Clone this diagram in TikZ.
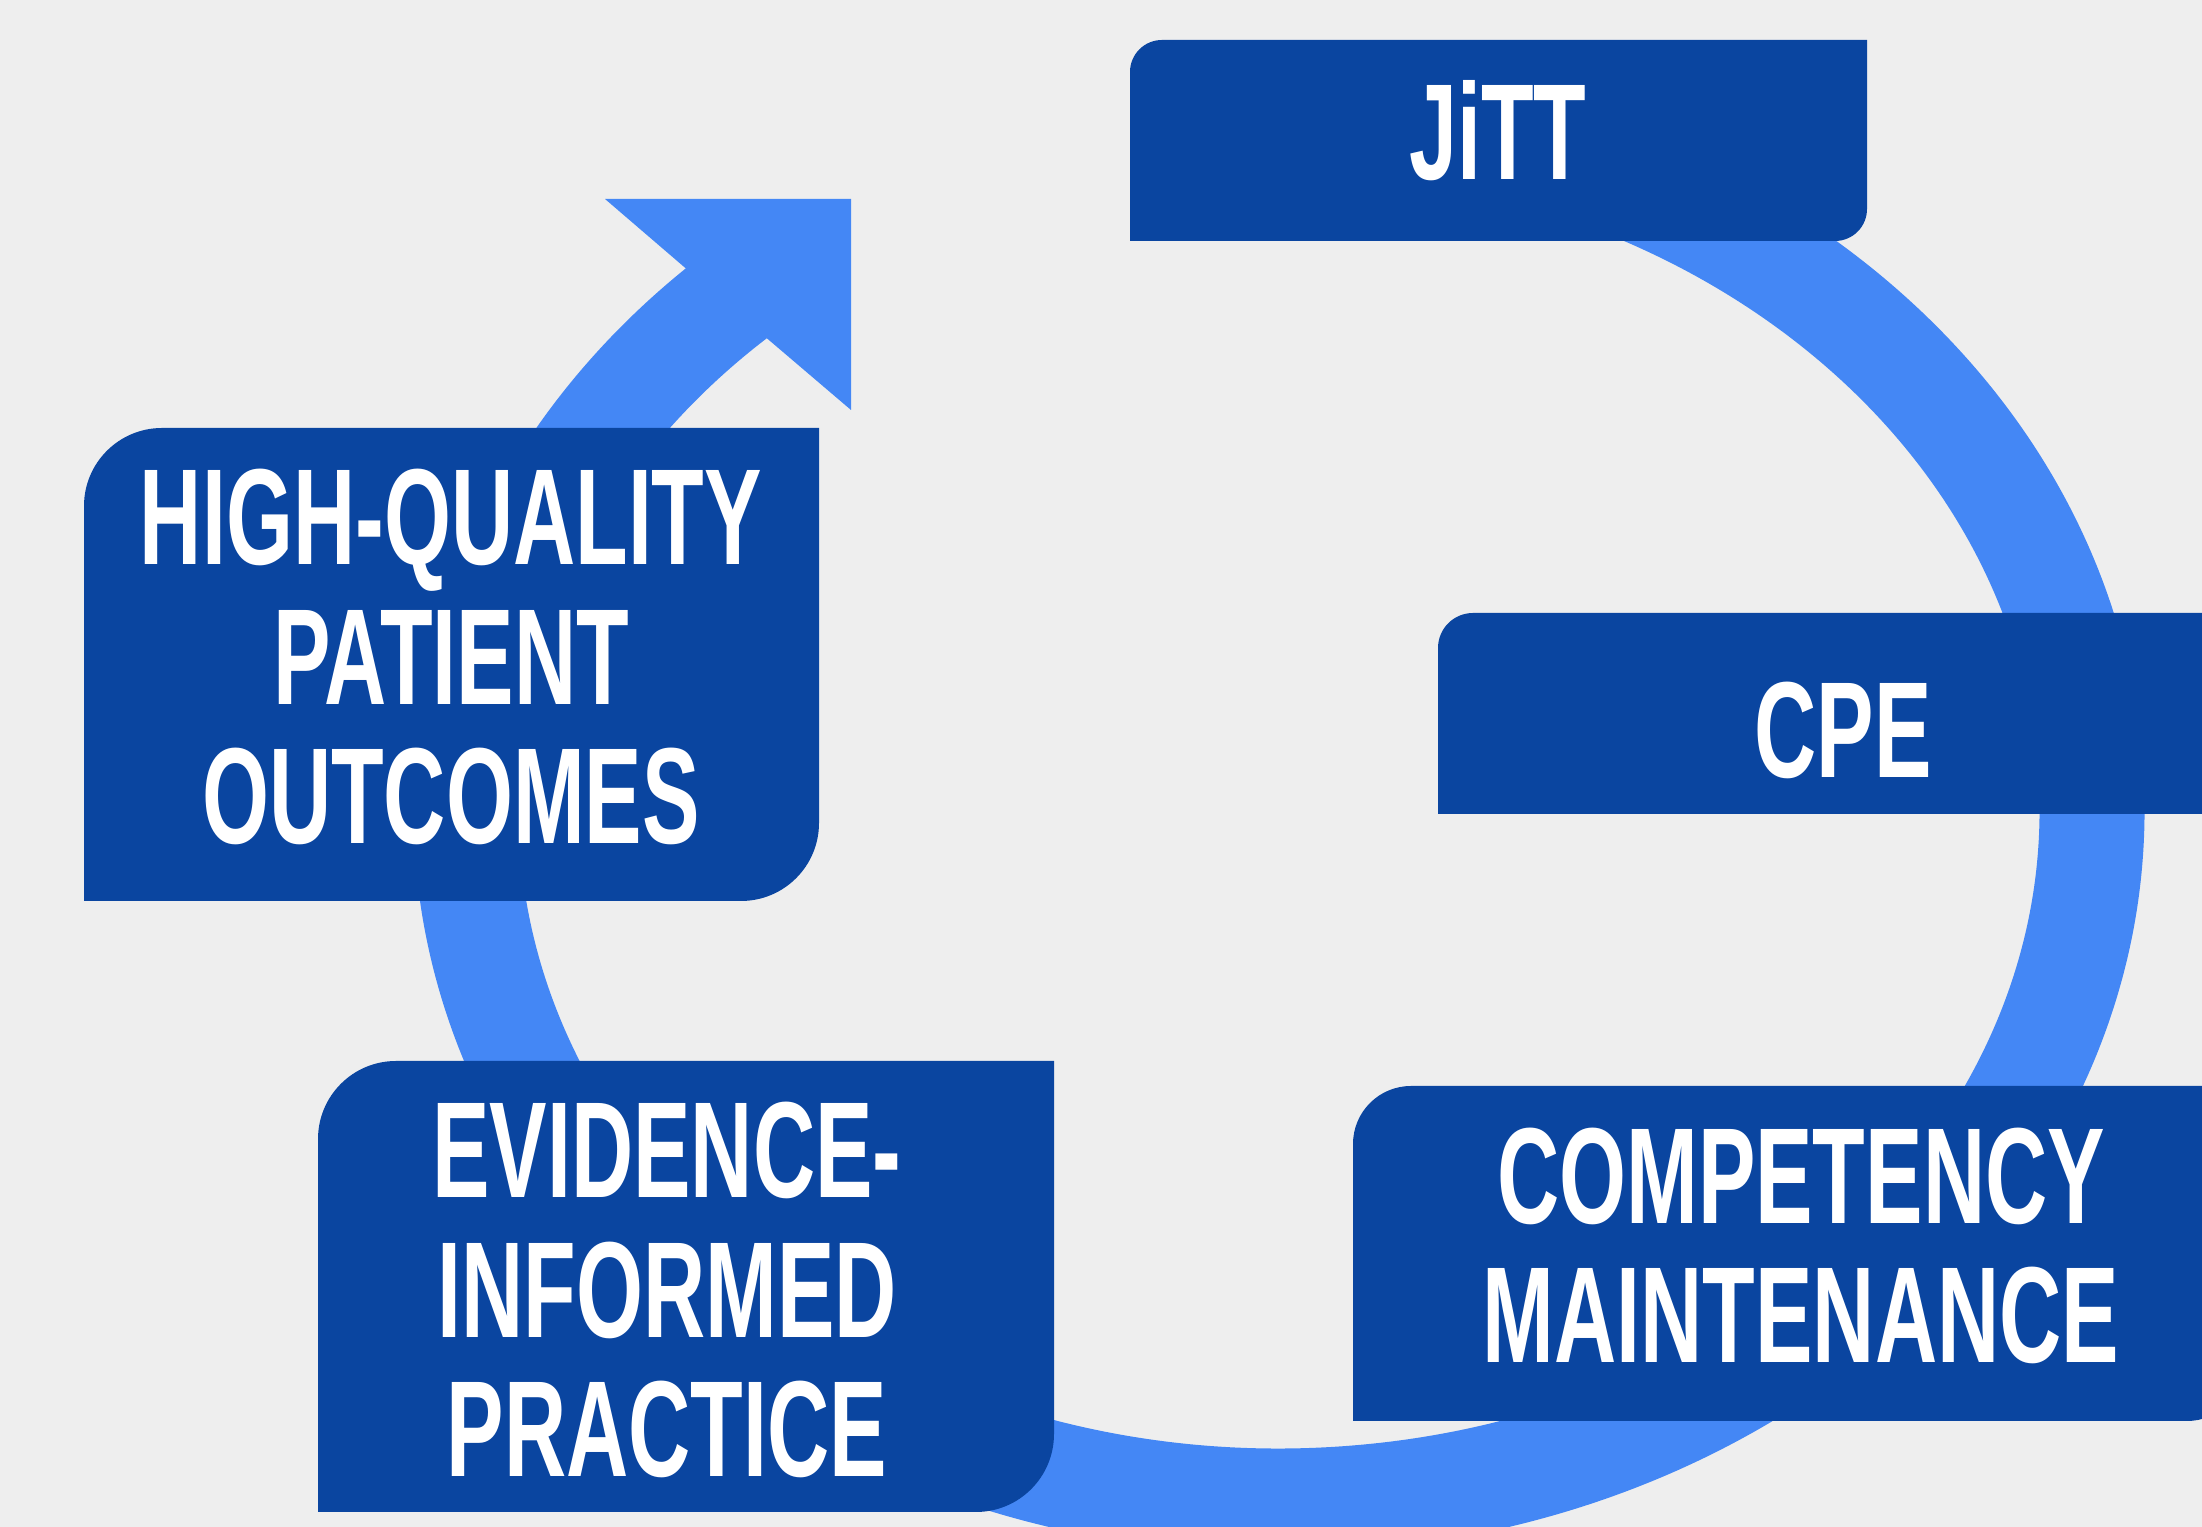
\documentclass[tikz,border=0pt]{standalone}
\usepackage{fontspec}
\newfontfamily\cardfont{Liberation Sans}[FakeStretch=0.63]
\definecolor{paper}{RGB}{238,238,238}
\definecolor{cardblue}{RGB}{10,69,160}
\definecolor{ringblue}{RGB}{68,135,245}
\begin{document}
\begin{tikzpicture}[
        cardtext/.style={text=white, align=center, inner sep=0pt,
            font=\cardfont\bfseries\fontsize{38.9}{39.8}\selectfont}]
        % page, cropped to the size of the reference
        \clip (0,0) rectangle (22.02,15.27);
        \fill[paper] (0,0) rectangle (22.02,15.27);
        % the cycle ring, with its arrowhead
        \coordinate (ring) at (12.79,7.17);
        \draw[ringblue, line width=1.05cm] ([shift={(95:8.13 and 6.91)}]ring)
            arc[start angle=95, end angle=-228, x radius=8.13, y radius=6.91];
        \fill[ringblue] (6.05,13.28) -- (8.51,13.28) -- (8.51,11.17)
            -- (7.63,11.92) -- (6.83,12.61) -- cycle;
        % JiTT card
        \fill[cardblue] (11.30,12.86) -- (11.30,14.55)
            arc[start angle=180, end angle=90, radius=0.32] -- (18.67,14.87)
            -- (18.67,13.18) arc[start angle=0, end angle=-90, radius=0.32] -- cycle;
        \node[cardtext] (jitt) at (14.98,13.96) {JiTT};
        % CPE card, running off the right edge
        \fill[cardblue] (14.38,7.13) -- (14.38,8.79)
            arc[start angle=180, end angle=90, radius=0.35] -- (22.30,9.14)
            -- (22.30,7.13) -- cycle;
        \node[cardtext] (cpe) at (18.43,7.97) {CPE};
        % high-quality patient outcomes card
        \fill[cardblue] (0.84,6.26) -- (0.84,10.21)
            arc[start angle=180, end angle=90, radius=0.78] -- (8.19,10.99)
            -- (8.19,7.04) arc[start angle=0, end angle=-90, radius=0.78] -- cycle;
        \node[cardtext] (outcomes) at (4.51,8.70) {HIGH-QUALITY\\PATIENT\\OUTCOMES};
        % evidence-informed practice card
        \fill[cardblue] (3.18,0.15) -- (3.18,3.88)
            arc[start angle=180, end angle=90, radius=0.78] -- (10.54,4.66)
            -- (10.54,0.93) arc[start angle=0, end angle=-90, radius=0.78] -- cycle;
        \node[cardtext] (evidence) at (6.67,2.37) {EVIDENCE-\\INFORMED\\PRACTICE};
        % competency maintenance card
        \fill[cardblue] (13.53,1.06) -- (13.53,3.83)
            arc[start angle=180, end angle=90, radius=0.58] -- (22.45,4.41)
            -- (22.45,1.64) arc[start angle=0, end angle=-90, radius=0.58] -- cycle;
        \node[cardtext] (competency) at (18.01,2.81) {COMPETENCY\\MAINTENANCE};
    \end{tikzpicture}
\end{document}
